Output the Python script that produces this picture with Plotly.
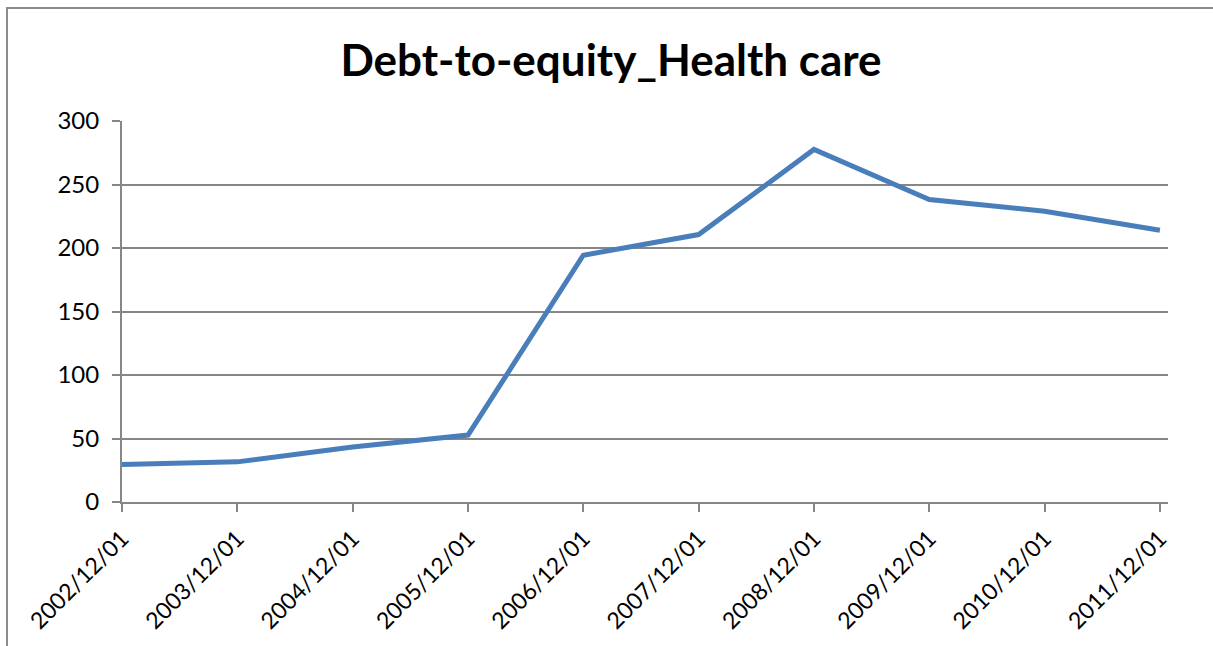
import plotly.graph_objects as go

# Debt-to-equity ratio for the health care sector, year-end observations
dates = ["2002/12/01", "2003/12/01", "2004/12/01", "2005/12/01", "2006/12/01",
         "2007/12/01", "2008/12/01", "2009/12/01", "2010/12/01", "2011/12/01"]
debt_to_equity = [29.5, 31.6, 43.3, 52.7, 194.3, 210.6, 277.6, 238.2, 229.0, 214.0]
y_ticks = [0, 50, 100, 150, 200, 250, 300]

W, H = 1213, 646
L, R, T, B = 122, 45, 121, 144
FONT = "Lato"
GRID = "#878787"

fig = go.Figure()
fig.add_trace(go.Scatter(
    x=dates, y=debt_to_equity, mode="lines",
    line=dict(color="#4A7EBB", width=5),
    hoverinfo="x+y", showlegend=False,
))

plot_w = W - L - R
plot_h = H - T - B

def px_to_paper_x(px):
    return (px - L) / plot_w

def px_to_paper_y(py):
    return (H - B - py) / plot_h

# Outer chart frame (left and top edges visible)
fig.add_shape(type="rect", xref="paper", yref="paper",
              x0=px_to_paper_x(7), x1=px_to_paper_x(W + 20),
              y0=px_to_paper_y(H + 20), y1=px_to_paper_y(8),
              line=dict(color="#8C8C8C", width=2), fillcolor="rgba(0,0,0,0)",
              layer="below")

n = len(dates)
fig.update_layout(
    width=W, height=H,
    margin=dict(l=L, r=R, t=T, b=B, pad=0, autoexpand=False),
    paper_bgcolor="white", plot_bgcolor="white",
    title=dict(text="<b>Debt-to-equity_Health care</b>",
               font=dict(family=FONT, size=44, color="black"),
               x=611 / W, xanchor="center", xref="container",
               y=1 - 61 / H, yanchor="middle", yref="container"),
    xaxis=dict(
        type="category", range=[0, n - 1 + 0.07], automargin=False,
        showgrid=False, zeroline=False,
        showline=True, linecolor=GRID, linewidth=2,
        ticks="outside", ticklen=8, tickcolor=GRID, tickwidth=2,
        tickangle=-45, tickfont=dict(family=FONT, size=23, color="black"),
        ticklabelstandoff=4,
    ),
    yaxis=dict(
        range=[0, 300], tickvals=y_ticks, automargin=False,
        showgrid=True, gridcolor=GRID, gridwidth=2,
        zeroline=False,
        showline=True, linecolor=GRID, linewidth=2,
        ticks="outside", ticklen=8, tickcolor=GRID, tickwidth=2,
        tickfont=dict(family=FONT, size=24, color="black"),
        ticklabelstandoff=8,
    ),
)

fig.write_html("out.html")
